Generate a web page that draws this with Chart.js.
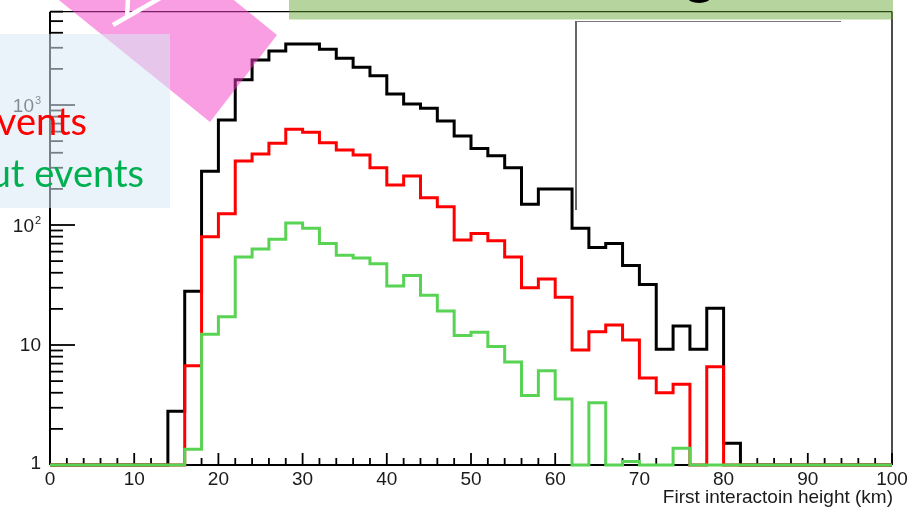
<!DOCTYPE html>
<html>
<head>
<meta charset="utf-8">
<script src="https://cdn.jsdelivr.net/npm/chart.js@4.4.1/dist/chart.umd.min.js"></script>
<style>
  html, body { margin: 0; padding: 0; background: #ffffff; }
  #wrap { width: 909px; height: 507px; position: relative; overflow: hidden; }
  canvas { display: block; }
</style>
</head>
<body>
<div id="wrap"><canvas id="c" width="909" height="507"></canvas></div>
<script>
// Bin edges of the height histograms (km), 2 km wide bins
const binEdges = [0, 2, 4, 6, 8, 10, 12, 14, 16, 18, 20, 22, 24, 26, 28, 30, 32, 34, 36, 38,
  40, 42, 44, 46, 48, 50, 52, 54, 56, 58, 60, 62, 64, 66, 68, 70, 72, 74, 76, 78,
  80, 82, 84, 86, 88, 90, 92, 94, 96, 98, 100];

// Bin contents, one value per bin (0 = empty bin)
const blackCounts = [0, 0, 0, 0, 0, 0, 0, 2.8, 28, 280,
  750, 1620, 2370, 2820, 3220, 3220, 2910, 2450, 2060, 1750,
  1235, 1020, 940, 735, 552, 435, 378, 300, 149, 200,
  200, 94, 65, 70, 46, 32, 9.2, 14.4, 9.2, 20.2,
  1.52, 0, 0, 0, 0, 0, 0, 0, 0, 0];

const redCounts = [0, 0, 0, 0, 0, 0, 0, 0, 6.7, 80,
  124, 341, 390, 480, 627, 592, 485, 422, 383, 300,
  215, 256, 169, 142, 75, 85, 74, 54, 30, 35.5,
  25, 9.1, 12.9, 14.7, 11, 5.3, 4.0, 4.7, 0, 6.6,
  0, 0, 0, 0, 0, 0, 0, 0, 0, 0];

const greenCounts = [0, 0, 0, 0, 0, 0, 0, 0, 1.35, 12.3,
  17.2, 54, 63, 76, 104, 94, 70, 56, 53, 47.5,
  31, 38, 26, 19.2, 12.0, 12.8, 9.7, 7.2, 3.8, 6.1,
  3.55, 0, 3.3, 0, 1.07, 0, 0, 1.38, 0, 0,
  0, 0, 0, 0, 0, 0, 0, 0, 0, 0];

// Axis ticks and labels
const xMajorTicks = [0, 10, 20, 30, 40, 50, 60, 70, 80, 90, 100];
const xTickLabels = ['0', '10', '20', '30', '40', '50', '60', '70', '80', '90', '100'];
const yMajorTicks = [1, 10, 100, 1000];
const yTickBase = ['1', '10', '10', '10'];
const yTickExp = ['', '', '2', '3'];
const xTitle = 'First interactoin height (km)';
const legendLines = ['vents', 'ut events'];

const Y_MIN = 1;
const Y_MAX = 6000;

// Empty bins sit on the floor of the log axis
function histPoints(counts) {
  return binEdges.map((x, i) => {
    const v = counts[Math.min(i, counts.length - 1)];
    return { x: x, y: v > 0 ? v : Y_MIN };
  });
}

function seg(ctx, x1, y1, x2, y2) {
  ctx.beginPath();
  ctx.moveTo(x1, y1);
  ctx.lineTo(x2, y2);
  ctx.stroke();
}

const frameAxes = {
  id: 'frameAxes',
  beforeDatasetsDraw(chart) {
    const { ctx, chartArea: a, scales: { x, y } } = chart;
    ctx.save();
    ctx.strokeStyle = '#000';
    ctx.lineCap = 'butt';
    // frame
    ctx.lineWidth = 1.4;
    seg(ctx, a.left, a.top, a.right, a.top);
    seg(ctx, a.right, a.top, a.right, a.bottom);
    ctx.lineWidth = 2;
    seg(ctx, a.left, a.top, a.left, a.bottom);
    seg(ctx, a.left, a.bottom, a.right, a.bottom);

    // x ticks (inside the frame)
    ctx.lineWidth = 1.8;
    for (let v = 0; v <= 100; v += 2) {
      const px = x.getPixelForValue(v);
      const len = xMajorTicks.includes(v) ? 12 : 7;
      seg(ctx, px, a.bottom, px, a.bottom - len);
    }
    // y ticks, log decades
    for (let d = 1; d <= Y_MAX; d *= 10) {
      for (let m = 1; m <= 9; m++) {
        const v = m * d;
        if (v > Y_MAX) break;
        const py = y.getPixelForValue(v);
        const len = m === 1 ? 25 : 13;
        seg(ctx, a.left, py, a.left + len, py);
      }
    }

    // labels
    ctx.fillStyle = '#1a1a1a';
    ctx.font = '19px "Liberation Sans", Arial, sans-serif';
    ctx.textBaseline = 'alphabetic';
    ctx.textAlign = 'center';
    xMajorTicks.forEach((v, i) => {
      ctx.fillText(xTickLabels[i], x.getPixelForValue(v), a.bottom + 20);
    });
    yMajorTicks.forEach((v, i) => {
      const py = y.getPixelForValue(v);
      ctx.font = '19px "Liberation Sans", Arial, sans-serif';
      if (yTickExp[i]) {
        ctx.textAlign = 'right';
        ctx.fillText(yTickBase[i], a.left - 16, py + 7);
        ctx.font = '11px "Liberation Sans", Arial, sans-serif';
        ctx.textAlign = 'left';
        ctx.fillText(yTickExp[i], a.left - 15, py - 1);
      } else {
        ctx.textAlign = 'right';
        ctx.fillText(yTickBase[i], a.left - 9, py + (v === 1 ? 4 : 6));
      }
    });
    ctx.font = '19px "Liberation Sans", Arial, sans-serif';
    ctx.textAlign = 'right';
    ctx.fillText(xTitle, a.right + 1, a.bottom + 38);
    ctx.restore();
  }
};

const slideLayers = {
  id: 'slideLayers',
  afterDraw(chart) {
    const { ctx } = chart;
    ctx.save();

    // tilted pink band
    ctx.fillStyle = 'rgba(243, 61, 197, 0.5)';
    ctx.beginPath();
    ctx.moveTo(44, -12);
    ctx.lineTo(210, 122);
    ctx.lineTo(277, 35);
    ctx.lineTo(219, -12);
    ctx.closePath();
    ctx.fill();

    // white glyph strokes on the band
    ctx.strokeStyle = '#ffffff';
    ctx.lineWidth = 4.5;
    ctx.lineCap = 'butt';
    seg(ctx, 113, 25, 162, -3);
    seg(ctx, 128, -2, 127, 18);

    // framed white panel
    ctx.fillStyle = '#ffffff';
    ctx.fillRect(576, 21, 265, 189);
    ctx.strokeStyle = '#000';
    ctx.lineWidth = 1.2;
    seg(ctx, 576, 21, 576, 210);
    ctx.strokeStyle = '#777';
    ctx.lineWidth = 1;
    seg(ctx, 576, 21.5, 841, 21.5);

    // light blue text box
    ctx.fillStyle = 'rgba(217, 231, 246, 0.55)';
    ctx.fillRect(0, 34, 170, 174);

    // green heading bar
    ctx.fillStyle = 'rgba(90, 160, 40, 0.45)';
    ctx.fillRect(289, 0, 604, 19.5);
    ctx.fillStyle = '#000';
    ctx.beginPath();
    ctx.ellipse(699, -2, 11, 5, 0, 0, Math.PI * 2);
    ctx.fill();

    // legend text
    ctx.font = '38px Lato, "Open Sans", sans-serif';
    ctx.textAlign = 'right';
    ctx.textBaseline = 'alphabetic';
    ctx.fillStyle = '#ff0000';
    ctx.fillText(legendLines[0], 87, 135);
    ctx.fillStyle = '#00b050';
    ctx.fillText(legendLines[1], 144, 187);
    ctx.restore();
  }
};

function histDataset(label, counts, color, order) {
  return {
    label: label,
    data: histPoints(counts),
    borderColor: color,
    borderWidth: 3,
    stepped: 'before',
    fill: false,
    pointRadius: 0,
    borderJoinStyle: 'miter',
    borderCapStyle: 'butt',
    clip: 6,
    order: order
  };
}

new Chart(document.getElementById('c'), {
  type: 'line',
  data: {
    datasets: [
      histDataset('black', blackCounts, '#000000', 2),
      histDataset('red', redCounts, '#ff0000', 1),
      histDataset('green', greenCounts, 'rgb(89, 211, 84)', 0)
    ]
  },
  options: {
    responsive: false,
    animation: false,
    events: [],
    layout: { padding: { left: 50, right: 17, top: 11.63, bottom: 42 } },
    scales: {
      x: { type: 'linear', min: 0, max: 100, display: false },
      y: { type: 'logarithmic', min: Y_MIN, max: Y_MAX, display: false }
    },
    plugins: { legend: { display: false }, tooltip: { enabled: false } }
  },
  plugins: [frameAxes, slideLayers]
});
</script>
</body>
</html>
